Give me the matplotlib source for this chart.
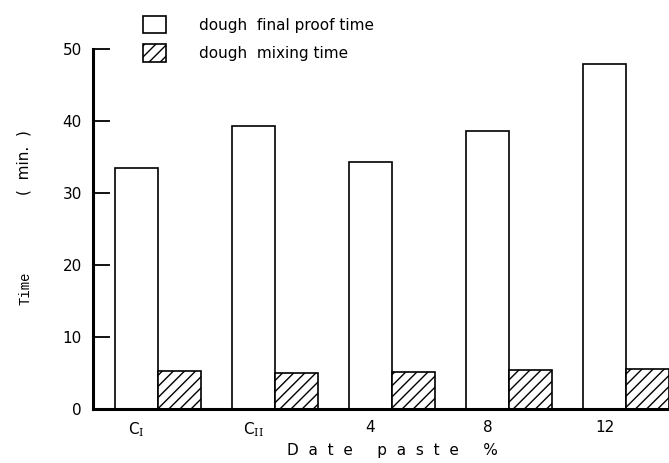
import numpy as np
import matplotlib.pyplot as plt
from matplotlib.patches import Patch

# data
groups      = ["C$_\\mathrm{I}$", "C$_\\mathrm{II}$", "4", "8", "12"]
proof_time  = [33.5, 39.3, 34.3, 38.6, 47.9]
mixing_time = [5.3, 5.0, 5.2, 5.4, 5.6]

plt.rcParams['font.family'] = ['DejaVu Sans']
plt.rcParams['mathtext.fontset'] = 'dejavuserif'
plt.rcParams['hatch.linewidth'] = 1.0

fig = plt.figure(figsize=(6.69, 4.63), dpi=100)
ax = fig.add_axes([93/669, 54/463, 576/669, 360/463])

x = np.arange(len(groups))
w = 0.37
ax.bar(x, proof_time, width=w, color='white', edgecolor='black', linewidth=1.2)
ax.bar(x + w, mixing_time, width=w, color='white', edgecolor='black',
       linewidth=1.2, hatch='///')

ax.set_xlim(-0.372, 4.551)
ax.set_ylim(0, 50)
ax.set_yticks([0, 10, 20, 30, 40, 50])
ax.set_xticks(x)
ax.set_xticklabels(groups, fontsize=11)
ax.tick_params(axis='y', direction='in', length=12, width=1.3, labelsize=11, pad=8)
ax.tick_params(axis='x', length=0, pad=8)

for s in ['top', 'right']:
    ax.spines[s].set_visible(False)
ax.spines['left'].set_linewidth(2.2)
ax.spines['bottom'].set_linewidth(2.2)

ax.set_xlabel("D  a  t  e     p  a  s  t  e     %", fontsize=11, labelpad=2)
ax.xaxis.set_label_coords((392 - 93) / 576, -0.095)

fig.text(24/669, 1 - 163/463, "(  min.  )", rotation=90, fontsize=11,
         ha='center', va='center')
fig.text(25/669, 1 - 288/463, "Time", rotation=90, fontsize=10,
         family='Liberation Mono', ha='center', va='center')

handles = [Patch(facecolor='white', edgecolor='black', linewidth=1.2),
           Patch(facecolor='white', edgecolor='black', linewidth=1.2, hatch='///')]
fig.legend(handles, ["dough  final proof time", "dough  mixing time"],
           loc='upper left', bbox_to_anchor=(129/669, 1 - 2/463), frameon=False,
           fontsize=11, handlelength=1.5, handleheight=1.4,
           handletextpad=2.2, labelspacing=0.7)

plt.savefig("out.png", dpi=100)
